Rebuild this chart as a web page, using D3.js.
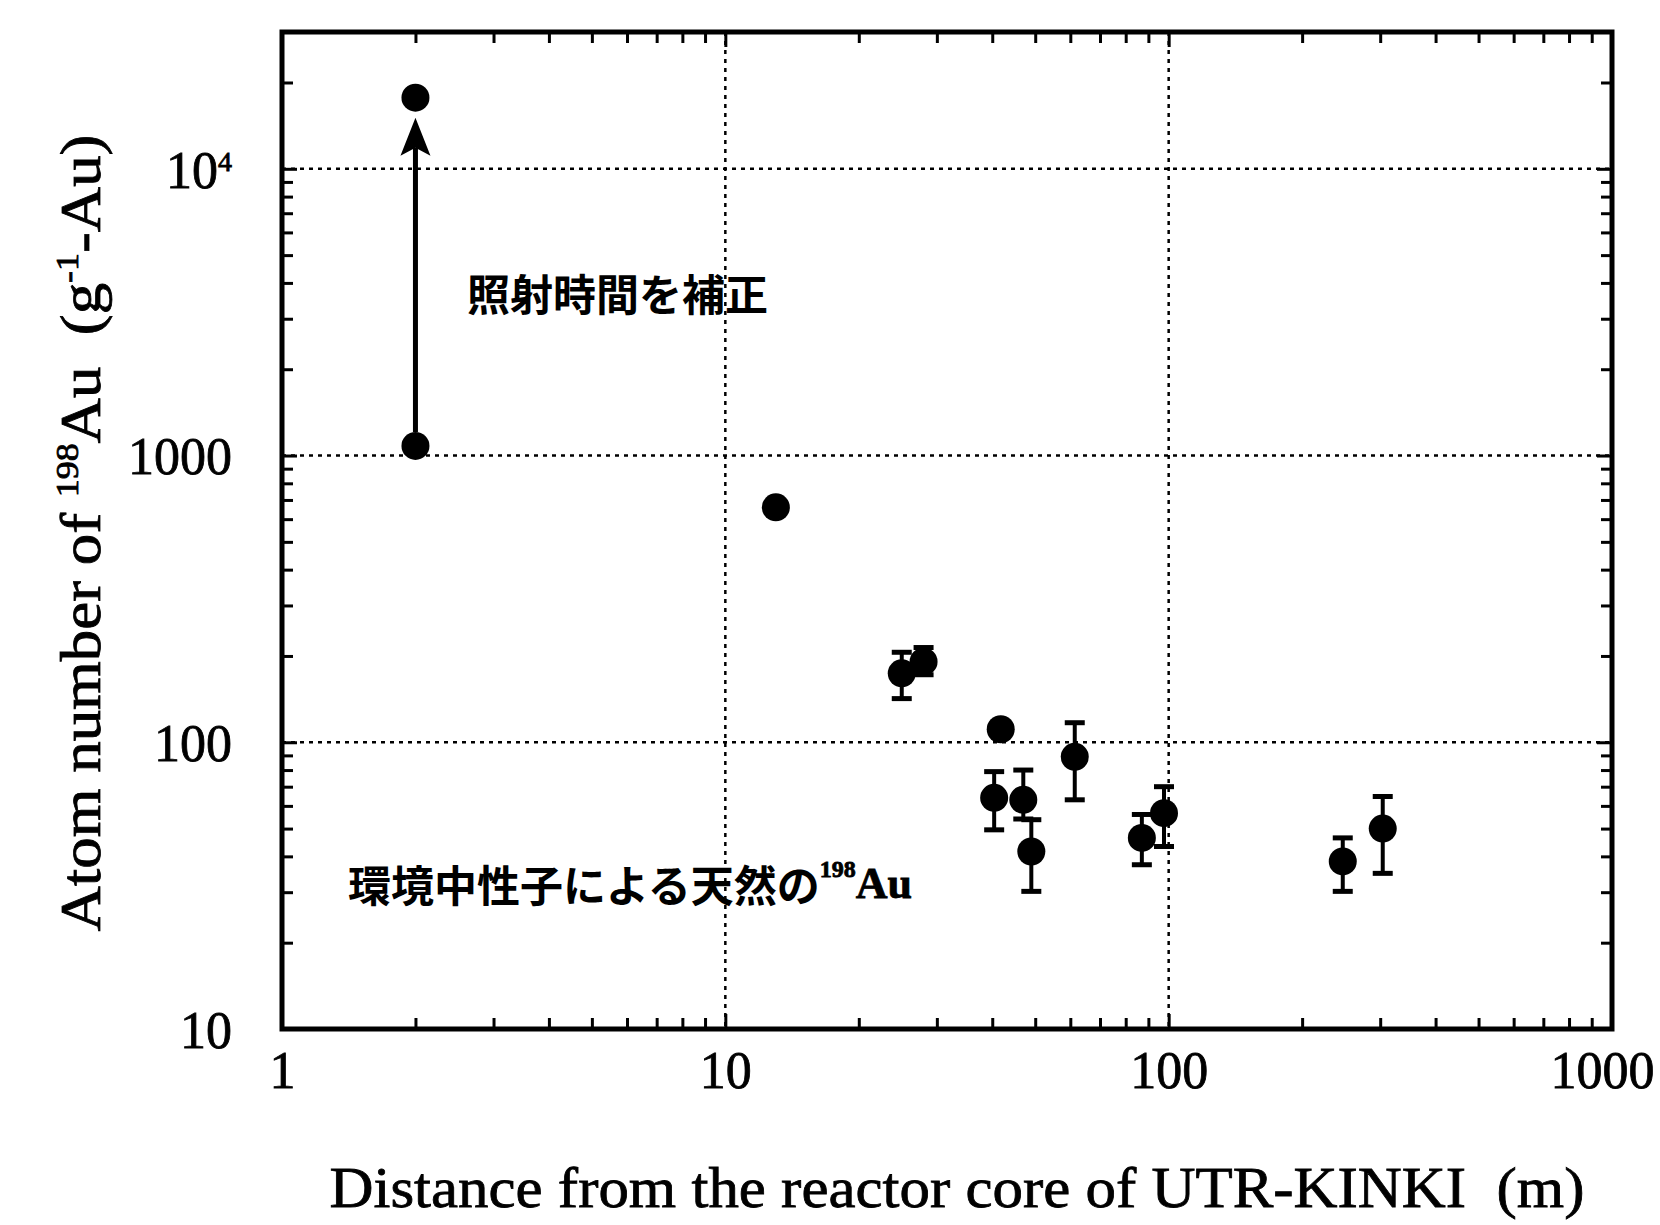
<!DOCTYPE html>
<html>
<head>
<meta charset="UTF-8">
<title>Atom number of 198Au vs distance from UTR-KINKI</title>
<script src="https://d3js.org/d3.v7.min.js"></script>
<style>
    body { margin: 0; background: #fff; }
    .serif { font-family: "Liberation Serif", "Times New Roman", serif; fill: #000; stroke: #000; stroke-width: 0.8; }
    .jp { font-family: "Noto Sans CJK JP", sans-serif; font-weight: bold; fill: #000; }
    .grid { stroke: #000; stroke-width: 2.5; stroke-dasharray: 4 5; }
</style>
</head>
<body>
<svg id="svg" width="1660" height="1225"></svg>
<script>
    // samples: distance (m) and 198Au atoms per gram of Au
    const distance = [13, 25, 28, 41.8, 40.4, 47, 49, 61.4, 87, 97.6, 247, 304];
    const atoms    = [660, 174, 191, 111, 64, 63, 41.6, 89, 46.4, 56.6, 38.4, 50];
    const errLow   = [null, 142, 172, null, 49.5, 54, 30.2, 63, 37.4, 43.3, 30.2, 34.9];
    const errHigh  = [null, 206, 214, null, 79, 80, 53.7, 117, 56, 70, 46.4, 64.7];

    // the sample next to the core, before and after correcting the irradiation time
    const corrDistance = [2];
    const corrBefore = [1080];
    const corrAfter = [17700];

    const xTicks = [1, 10, 100, 1000];
    const yTicks = [10, 100, 1000, 10000];

    var svg = d3.select('#svg');
    var L = 282, R = 1612, T = 32, B = 1029,
        rad = 14;

    var x = d3.scaleLog().domain([1, 1000]).range([L, R]),
        y = d3.scaleLog().domain([10, 30000]).range([B, T]);

    // dotted grid at inner decades
    svg.append("g").selectAll("line").data(xTicks.slice(1, -1)).join("line")
        .attr("class", "grid")
        .attr("x1", d => x(d)).attr("x2", d => x(d))
        .attr("y1", T).attr("y2", B);
    svg.append("g").selectAll("line").data(yTicks.slice(1)).join("line")
        .attr("class", "grid")
        .attr("x1", L).attr("x2", R)
        .attr("y1", d => y(d)).attr("y2", d => y(d));

    // inward ticks on all four sides
    var xMinor = x.ticks().filter(d => !xTicks.includes(d)),
        yMinor = y.ticks().filter(d => !yTicks.includes(d));

    function tickAxis(axis, tr) {
        var g = svg.append("g").attr("transform", tr).call(axis);
        g.select(".domain").remove();
        g.selectAll(".tick line").attr("stroke", "#000").attr("stroke-width", 3);
        return g;
    }
    tickAxis(d3.axisBottom(x).tickValues(xMinor).tickSize(-11).tickFormat(""), "translate(0," + B + ")");
    tickAxis(d3.axisTop(x).tickValues(xMinor).tickSize(-11).tickFormat(""), "translate(0," + T + ")");
    tickAxis(d3.axisLeft(y).tickValues(yMinor).tickSize(-11).tickFormat(""), "translate(" + L + ",0)");
    tickAxis(d3.axisRight(y).tickValues(yMinor).tickSize(-11).tickFormat(""), "translate(" + R + ",0)");

    var xAxis = tickAxis(d3.axisBottom(x).tickValues(xTicks).tickSize(-15).tickPadding(22).tickFormat(d3.format("d")), "translate(0," + B + ")");
    xAxis.selectAll("text").attr("class", "serif").style("font-size", "52px").attr("dy", "0.71em");
    // last label sits at the page edge, as in the original
    xAxis.selectAll(".tick").filter(d => d == 1000).select("text").attr("x", -10);
    tickAxis(d3.axisTop(x).tickValues(xTicks).tickSize(-15).tickFormat(""), "translate(0," + T + ")");

    var yAxis = tickAxis(d3.axisLeft(y).tickValues(yTicks).tickSize(-15).tickPadding(50).tickFormat(d => d == 10000 ? "" : d3.format("d")(d)), "translate(" + L + ",0)");
    yAxis.selectAll("text").attr("class", "serif").style("font-size", "52px").attr("dy", "0.35em");
    yAxis.selectAll(".tick").filter(d => d == 10000).select("text")
        .call(t => {
            t.append("tspan").text("10");
            t.append("tspan").attr("dy", "-0.6em").style("font-size", "28px").text("4");
        });
    tickAxis(d3.axisRight(y).tickValues(yTicks).tickSize(-15).tickFormat(""), "translate(" + R + ",0)");

    // frame
    svg.append("rect").attr("x", L).attr("y", T).attr("width", R - L).attr("height", B - T)
        .attr("fill", "none").attr("stroke", "#000").attr("stroke-width", 5);

    // error bars
    var eb = svg.append("g").attr("stroke", "#000");
    distance.forEach((d, i) => {
        if (errLow[i] == null) return;
        var cx = x(d);
        eb.append("line").attr("x1", cx).attr("x2", cx).attr("y1", y(errLow[i])).attr("y2", y(errHigh[i])).attr("stroke-width", 4);
        eb.append("line").attr("x1", cx - 10).attr("x2", cx + 10).attr("y1", y(errLow[i])).attr("y2", y(errLow[i])).attr("stroke-width", 5);
        eb.append("line").attr("x1", cx - 10).attr("x2", cx + 10).attr("y1", y(errHigh[i])).attr("y2", y(errHigh[i])).attr("stroke-width", 5);
    });

    // points
    svg.append("g").selectAll("circle").data(distance).join("circle")
        .attr("cx", d => x(d)).attr("cy", (d, i) => y(atoms[i])).attr("r", rad).attr("fill", "#000");

    // corrected sample: two points joined by an arrow
    corrDistance.forEach((d, i) => {
        var cx = x(d), y0 = y(corrBefore[i]), y1 = y(corrAfter[i]);
        svg.append("circle").attr("cx", cx).attr("cy", y0).attr("r", rad).attr("fill", "#000");
        svg.append("circle").attr("cx", cx).attr("cy", y1).attr("r", rad).attr("fill", "#000");
        var tip = y1 + rad + 6;
        svg.append("line").attr("x1", cx).attr("x2", cx).attr("y1", y0 - rad).attr("y2", tip + 30)
            .attr("stroke", "#000").attr("stroke-width", 5);
        svg.append("path").attr("d", "M" + cx + "," + tip + "L" + (cx + 15) + "," + (tip + 38) + "L" + cx + "," + (tip + 30) + "L" + (cx - 15) + "," + (tip + 38) + "Z")
            .attr("fill", "#000");
    });

    // annotations
    svg.append("text").attr("class", "jp").attr("x", 467).attr("y", 292)
        .attr("dominant-baseline", "central").style("font-size", "43px").text("照射時間を補正");

    var ann = svg.append("text").attr("class", "jp").attr("x", 348).attr("y", 883)
        .attr("dominant-baseline", "central").style("font-size", "43px");
    ann.append("tspan").text("環境中性子による天然の");
    ann.append("tspan").attr("class", "serif").attr("dy", -14).style("font-size", "24px").style("font-weight", "bold").text("198");
    ann.append("tspan").attr("class", "serif").attr("dy", 14).style("font-size", "44px").style("font-weight", "bold").text("Au");

    // axis titles
    svg.append("text").attr("class", "serif").attr("x", 957).attr("y", 1207)
        .attr("text-anchor", "middle").style("font-size", "58px").style("white-space", "pre")
        .attr("textLength", 1255).attr("lengthAdjust", "spacingAndGlyphs")
        .text("Distance from the reactor core of UTR-KINKI  (m)");

    var yl = svg.append("text").attr("class", "serif").attr("transform", "translate(100,533) rotate(-90)")
        .attr("text-anchor", "middle").style("font-size", "56px").style("white-space", "pre")
        .attr("textLength", 797).attr("lengthAdjust", "spacingAndGlyphs");
    yl.append("tspan").text("Atom number of ");
    yl.append("tspan").attr("dy", -22).style("font-size", "32px").text("198");
    yl.append("tspan").attr("dy", 22).text("Au  (g");
    yl.append("tspan").attr("dy", -22).style("font-size", "32px").text("-1");
    yl.append("tspan").attr("dy", 22).text("-Au)");
</script>
</body>
</html>
